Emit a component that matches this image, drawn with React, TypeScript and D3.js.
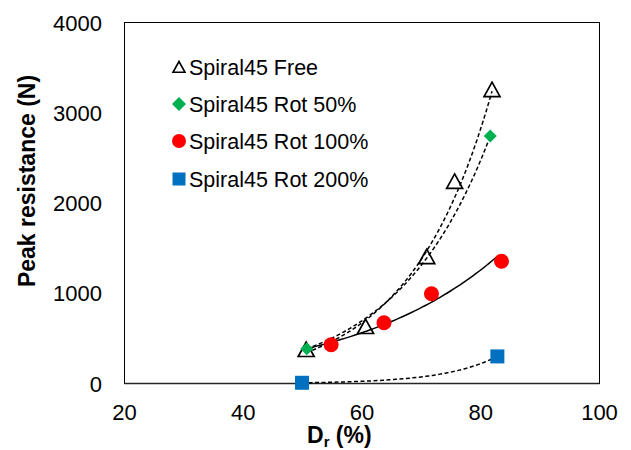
import React from 'react';
import * as d3 from 'd3';

// Peak resistance vs relative density
const freeDr = [50.6, 60.6, 70.9, 75.6, 81.9];
const freeP = [370, 625, 1400, 2234, 3250];
const rot50Dr = [50.7, 81.6];
const rot50P = [385, 2741];
const rot100Dr = [54.8, 63.7, 71.7, 83.5];
const rot100P = [429, 673, 995, 1354];
const rot200Dr = [49.9, 82.8];
const rot200P = [8, 300];

const xTicks = [20, 40, 60, 80, 100];
const yTicks = [0, 1000, 2000, 3000, 4000];

const legendLabels = ['Spiral45 Free', 'Spiral45 Rot 50%', 'Spiral45 Rot 100%', 'Spiral45 Rot 200%'];

const W = 631;
const H = 450;
const margin = { top: 22.5, right: 31.5, bottom: 66.5, left: 124.5 };
const font = 'Liberation Sans, Arial, sans-serif';

// exponential trendline (least squares on ln y), like Excel
function expFit(xs: number[], ys: number[]) {
  const n = xs.length;
  const ly = ys.map(v => Math.log(v));
  const mx = d3.mean(xs)!;
  const my = d3.mean(ly)!;
  let sxy = 0, sxx = 0;
  xs.forEach((x, i) => { sxy += (x - mx) * (ly[i] - my); sxx += (x - mx) * (x - mx); });
  const b = n > 1 ? sxy / sxx : 0;
  const a = my - b * mx;
  return (x: number) => Math.exp(a + b * x);
}

const App: React.FC = () => {
  const x = d3.scaleLinear().domain([20, 100]).range([margin.left, W - margin.right]);
  const y = d3.scaleLinear().domain([0, 4000]).range([H - margin.bottom, margin.top]);

  const line = d3.line<[number, number]>().x(d => x(d[0])).y(d => y(d[1]));
  const trend = (xs: number[], ys: number[], x0: number, x1: number) => {
    const f = expFit(xs, ys);
    const pts: [number, number][] = d3.range(0, 61).map(i => {
      const xv = x0 + (x1 - x0) * i / 60;
      return [xv, f(xv)];
    });
    return line(pts) || '';
  };

  const tri = (cx: number, cy: number, s = 8) =>
    `M${cx},${cy - s} L${cx + s},${cy + s * 0.8} L${cx - s},${cy + s * 0.8} Z`;
  const dia = (cx: number, cy: number, s = 6.5) =>
    `M${cx},${cy - s} L${cx + s},${cy} L${cx},${cy + s} L${cx - s},${cy} Z`;

  const legendY = [67, 104, 141, 179];
  const lx = 179;

  return (
    <svg width={W} height={H} style={{ position: 'absolute', left: 0, top: 0, background: '#fff' }}>
      {/* plot frame */}
      <rect x={margin.left} y={margin.top} width={W - margin.left - margin.right}
        height={H - margin.top - margin.bottom} fill="none" stroke="#000" strokeWidth={1} />
      <line x1={margin.left} x2={W - margin.right} y1={y(0)} y2={y(0)} stroke="#262626" strokeWidth={1.6} />

      {/* trendlines */}
      <path d={trend(freeDr, freeP, 50.6, 81.9)} fill="none" stroke="#000" strokeWidth={1.5} strokeDasharray="4,2.5" />
      <path d={trend(rot50Dr, rot50P, 50.7, 81.6)} fill="none" stroke="#000" strokeWidth={1.5} strokeDasharray="4,2.5" />
      <path d={trend(rot100Dr, rot100P, 50.6, 83.0)} fill="none" stroke="#000" strokeWidth={1.5} />
      <path d={trend(rot200Dr, rot200P, 49.9, 82.8)} fill="none" stroke="#000" strokeWidth={1.5} strokeDasharray="4,2.5" />

      {/* markers */}
      {freeDr.map((d, i) => (
        <path key={'f' + i} d={tri(x(d), y(freeP[i]))} fill="none" stroke="#000" strokeWidth={1.7} />
      ))}
      {rot50Dr.map((d, i) => (
        <path key={'d' + i} d={dia(x(d), y(rot50P[i]))} fill="#00B050" />
      ))}
      {rot100Dr.map((d, i) => (
        <circle key={'c' + i} cx={x(d)} cy={y(rot100P[i])} r={7.5} fill="#FF0000" />
      ))}
      {rot200Dr.map((d, i) => (
        <rect key={'s' + i} x={x(d) - 7} y={y(rot200P[i]) - 7} width={14} height={14} fill="#0070C0" />
      ))}

      {/* tick labels */}
      {xTicks.map(t => (
        <text key={'x' + t} x={x(t)} y={419.5} textAnchor="middle" fontFamily={font} fontSize={22} fill="#000">{t}</text>
      ))}
      {yTicks.map(t => (
        <text key={'y' + t} x={102} y={y(t) + 8} textAnchor="end" fontFamily={font} fontSize={22} fill="#000">{t}</text>
      ))}

      {/* axis titles */}
      <text x={307} y={443} fontFamily={font} fontSize={23} fontWeight="bold" fill="#000">
        D<tspan fontSize={15} dy={3.5}>r</tspan><tspan dy={-3.5}> (%)</tspan>
      </text>
      <text transform="translate(35,181) rotate(-90)" textAnchor="middle"
        fontFamily={font} fontSize={23} fontWeight="bold" fill="#000">Peak resistance (N)</text>

      {/* legend */}
      <path d={tri(lx, legendY[0] + 0.5, 6)} fill="none" stroke="#000" strokeWidth={1.6} />
      <path d={dia(lx, legendY[1], 7)} fill="#00B050" />
      <circle cx={lx} cy={legendY[2]} r={7} fill="#FF0000" />
      <rect x={lx - 6.5} y={legendY[3] - 6.5} width={13} height={13} fill="#0070C0" />
      {legendLabels.map((l, i) => (
        <text key={l} x={189} y={legendY[i] + 7.5} fontFamily={font} fontSize={21.5} fill="#000">{l}</text>
      ))}
    </svg>
  );
};

export default App;
